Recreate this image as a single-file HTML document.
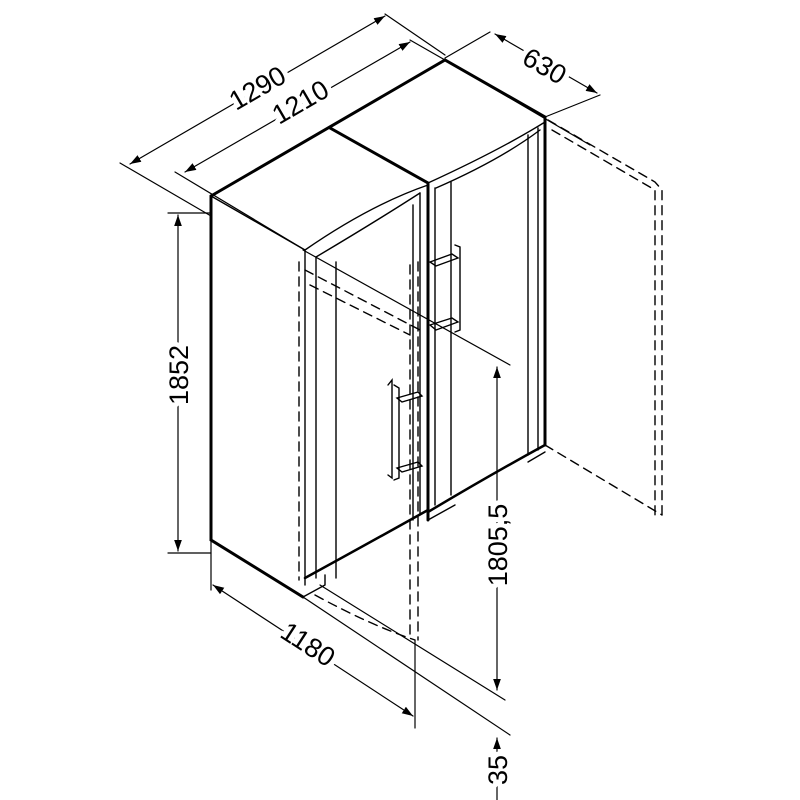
<!DOCTYPE html>
<html><head><style>body{margin:0;background:#fff}svg{display:block}</style></head>
<body>
<svg width="800" height="800" viewBox="0 0 800 800" xmlns="http://www.w3.org/2000/svg" font-family="Liberation Sans, sans-serif">
<defs>
<marker id="a" viewBox="0 0 10 10" refX="10" refY="5" markerWidth="11" markerHeight="11" orient="auto-start-reverse" markerUnits="userSpaceOnUse"><path d="M0,1.5 L10,5 L0,8.5z" fill="#000"/></marker>
</defs>
<g stroke="#000" fill="none" stroke-linecap="round">
<g stroke-width="3">
<path d="M211,196 L445,60 L545,117 L545,445"/>
<path d="M211,196 L211,540 L303,597"/>
<path d="M330,128 L428,183 L428,520"/>
</g>
<g stroke-width="1.4">
<path d="M211,196 L305,250 L305,585"/>
<path d="M305,250 Q370,205 428,185"/>
<path d="M316,257 Q375,222 420,193"/>
<path d="M428,183 Q500,150 545,122"/>
<path d="M436,188 Q500,160 540,130"/>
<path d="M316,257 L316,578"/><path d="M336,262 L336,578"/>
<path d="M413,205 L413,520"/><path d="M420,193 L420,515"/>
<path d="M435,188 L435,505"/><path d="M451,182 L451,495"/>
<path d="M528,135 L528,455"/><path d="M538,128 L538,450"/>
<path d="M305,578 Q360,548 428,510" stroke-width="2.5"/>
<path d="M303,597 L325,585 L325,575"/>
<path d="M428,512 Q490,475 545,445" stroke-width="2.5"/>
<path d="M428,520 L455,505"/>
<path d="M528,462 L545,452"/>
</g>
<g stroke-width="1.4">
<path d="M455,245 L460,247 L460,330 L455,332"/>
<path d="M430,262 L452,254 L458,258 L436,266z"/><path d="M430,325 L452,318 L458,322 L436,330z"/>
<path d="M394,385 L399,388 L399,478 L394,480"/>
<path d="M397,398 L418,392 L422,396 L402,402z"/><path d="M397,468 L418,462 L422,466 L402,472z"/>
<path d="M388,385 L392,380 L392,478 L388,475"/>
</g>
<g stroke-width="1.4" stroke-dasharray="9,6">
<path d="M299,262 L299,580"/>
<path d="M418,262 L418,640"/><path d="M410,265 L410,640"/>
<path d="M305,270 L420,330"/><path d="M310,285 L410,335"/>
<path d="M315,595 Q370,625 415,640"/>
<path d="M548,120 L655,182 L662,190 L662,520"/>
<path d="M552,130 L655,190 L655,515"/>
<path d="M545,445 L662,515"/>
</g>
<g stroke-width="1.2">
<path d="M120,163 L211,216"/><path d="M175,172 L305,250"/>
<path d="M385,14 L445,55"/><path d="M410,40 L445,60"/>
<path d="M445,60 L590,145"/><path d="M545,117 L600,95"/>
<path d="M490,32 L445,58"/>
<path d="M168,213 L211,213"/><path d="M168,553 L211,553"/>
<path d="M211,540 L211,590"/><path d="M303,597 L510,735"/>
<path d="M415,640 L415,728"/>
<path d="M303,250 L510,365"/>
<path d="M320,585 L505,700"/>
</g>
<g stroke-width="1.2" marker-start="url(#a)" marker-end="url(#a)">
<path d="M130,164 L385,16"/>
<path d="M185,172 L410,42"/>
<path d="M495,34 L597,93"/>
<path d="M178,215 L178,551"/>
<path d="M213,585 L413,716"/>
<path d="M497,367 L497,690"/>
</g>
<path d="M497,738 L497,800" stroke-width="1.2" marker-start="url(#a)"/>
</g>
<g font-size="27" fill="#000" text-anchor="middle" stroke="#fff" stroke-width="10" paint-order="stroke" stroke-linejoin="round">
<text transform="translate(262,96) rotate(-30)">1290</text>
<text transform="translate(305,110) rotate(-30)">1210</text>
<text transform="translate(540,74) rotate(30)">630</text>
<text transform="translate(188,375) rotate(-90)">1852</text>
<text transform="translate(303,652) rotate(33)">1180</text>
<text transform="translate(507,545) rotate(-90)">1805,5</text>
<text transform="translate(507,770) rotate(-90)">35</text>
</g>
</svg>
</body></html>
